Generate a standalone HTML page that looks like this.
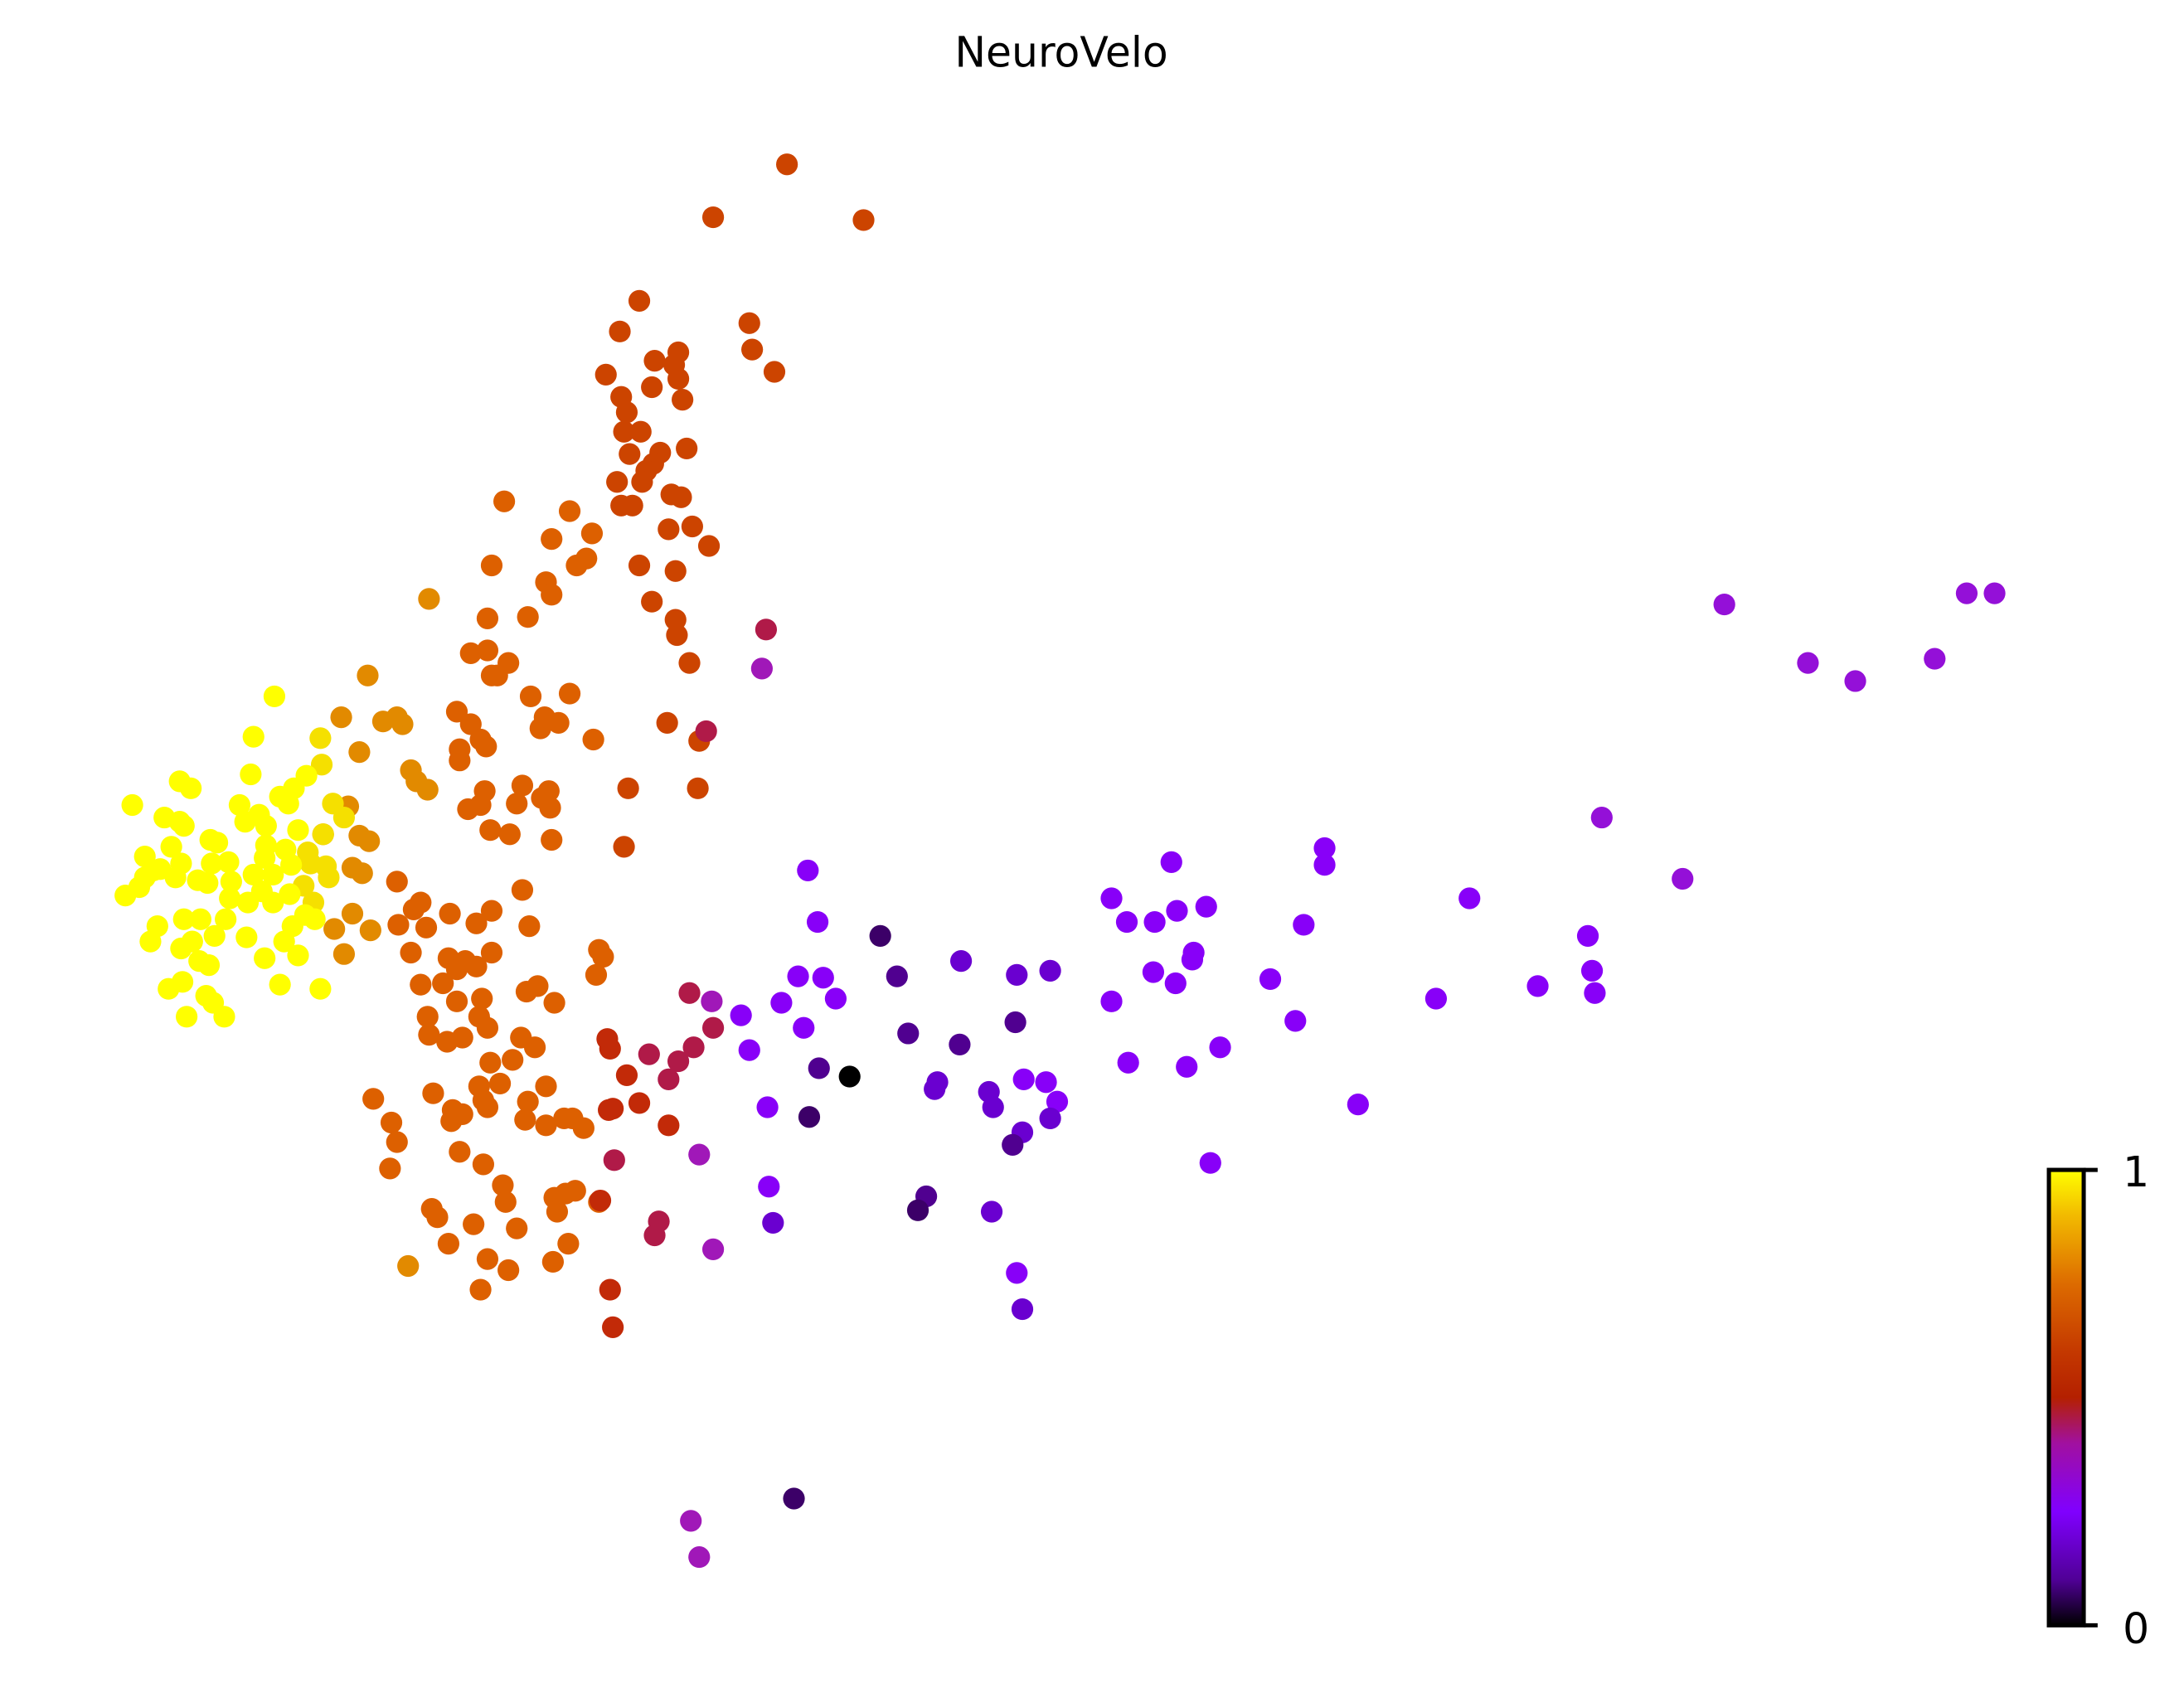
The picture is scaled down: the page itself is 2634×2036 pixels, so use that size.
<!DOCTYPE html>
<html><head><meta charset="utf-8"><style>html,body{margin:0;padding:0;background:#fff}svg{display:block}</style></head>
<body>
<svg id="s" width="2634" height="2036" viewBox="0 0 1568 1212" xmlns="http://www.w3.org/2000/svg">
<defs><linearGradient id="g" x1="0" y1="1" x2="0" y2="0">
<stop offset="0" stop-color="#000000"/><stop offset="0.1" stop-color="#500096"/><stop offset="0.25" stop-color="#8000ff"/><stop offset="0.4" stop-color="#a110a0"/><stop offset="0.5" stop-color="#b42000"/><stop offset="0.6" stop-color="#c43800"/><stop offset="0.75" stop-color="#dd6b00"/><stop offset="0.9" stop-color="#f2ba00"/><stop offset="1" stop-color="#ffff00"/></linearGradient></defs>
<text x="762" y="48" font-family="DejaVu Sans, Liberation Sans, sans-serif" font-size="30" text-anchor="middle">NeuroVelo</text>
<g id="pts"></g>
<rect x="1471" y="840" width="25" height="327" fill="url(#g)" stroke="#000" stroke-width="3"/>
<line x1="1496" y1="840" x2="1506" y2="840" stroke="#000" stroke-width="3"/>
<line x1="1496" y1="1167" x2="1506" y2="1167" stroke="#000" stroke-width="3"/>
<text x="1524" y="852" font-family="DejaVu Sans, Liberation Sans, sans-serif" font-size="30">1</text>
<text x="1524" y="1180" font-family="DejaVu Sans, Liberation Sans, sans-serif" font-size="30">0</text>
</svg>
<script>
var G={
"#cc4400":[565,118,512,156,620,158,459,216,445,238,538,232,540,251,556,267,487,253,470,259,484,262,435,269,468,278,487,272,446,285,490,287,450,296,448,310,460,310,493,322,452,326,474,325,469,333,464,338,443,346,461,346,446,363,454,363,482,355,489,357,480,380,497,378,509,392,459,406,485,410,468,432,485,445,486,456,495,476,479,519,502,532,451,566,501,566,448,608],
"#dd6000":[362,360,409,367,425,383,396,387,421,401,414,406,392,418,396,427,353,406,350,444,379,443,338,469,350,467,353,485,357,485,365,476,381,500,409,498,391,515,401,519,388,523,426,531,328,511,338,520,345,531,330,538,349,536,330,546,375,564,394,568,348,568,345,578,336,581,371,577,389,573,395,580,352,596,366,599,396,603,375,639,285,633,297,653,302,648,286,664,306,666,323,656,342,663,353,654,380,665,295,684,322,688,353,684,342,694,328,696,334,690,302,707,318,706,346,717,328,719,378,712,386,708,398,720,344,730,350,738,307,730,308,743,321,748,332,745,374,745,368,761,384,752,352,763,430,682,433,687,428,700,344,780,359,778,350,795,347,790,311,785,379,791,325,797,377,804,392,780,405,803,324,805,332,800,392,808,411,803,419,810,268,789,281,806,285,820,330,827,361,851,347,836,280,839,310,868,314,874,340,879,363,863,398,860,406,857,413,855,400,870,430,863,371,882,322,893,408,893,350,904,397,906,365,912,345,926],
"#e28a00":[308,430,264,485,245,515,275,518,289,520,285,515,258,540,295,553,299,561,307,567,250,579,258,600,265,604,253,623,260,627,253,656,266,668,247,685,240,667,232,599,293,909],
"#c22a08":[438,753,436,746,450,772,459,792,440,796,480,808,438,926,440,953,431,862,437,797],
"#b01a48":[466,757,480,775,487,762,498,752,512,738,495,713,441,833,473,877,470,887,550,452,507,525],
"#a018b8":[547,480,511,719,502,829,512,897,496,1092,502,1118],
"#8800f8":[580,625,587,662,573,701,591,702,600,717,561,720,532,729,538,754,577,738,551,795,552,852,735,775,751,777,759,791,730,914,798,645,841,619,809,662,829,662,845,654,866,651,857,684,856,689,828,698,844,706,798,719,810,763,852,766,876,752,869,835,912,703,930,733,936,664,951,609,951,621,975,793,1031,717,1055,645,1104,708,1140,672,1143,697,1145,713],
"#6a00d0":[555,878,690,690,730,700,754,697,710,784,713,795,734,813,754,803,712,870,734,940,673,777,671,782],
"#500090":[588,767,644,701,652,742,689,750,729,734,727,822,665,859],
"#3c0068":[581,802,632,672,659,869,570,1076],
"#000000":[610,773],
"#9410d8":[1150,587,1208,631,1238,434,1298,476,1332,489,1389,473,1412,426,1432,426],
"#f5e000":[232,599,223,620,221,612,234,622,236,630,239,577,247,587,218,636,225,648,230,530,231,549],
"#ffff00":[95,578,104,615,118,587,129,561,137,566,129,590,132,593,123,608,110,625,90,643,100,637,104,630,115,624,126,630,130,620,142,632,149,634,152,620,151,603,164,619,166,633,172,578,180,556,182,529,197,500,186,585,176,590,191,593,191,607,190,616,182,628,178,648,165,645,162,660,154,672,144,660,132,660,113,665,108,676,130,681,138,676,143,690,150,693,131,705,121,710,148,715,153,720,134,730,161,730,177,673,190,688,204,676,210,665,219,657,226,660,214,686,201,707,230,710,220,557,211,566,201,572,207,577,214,596,205,610,196,628,208,642,209,621,188,640,196,648,156,605]
};
var h="";for(var c in G){var a=G[c];for(var i=0;i<a.length;i+=2)h+='<circle cx="'+a[i]+'" cy="'+a[i+1]+'" r="7.8" fill="'+c+'"/>';}
document.getElementById("pts").innerHTML=h;
</script>
</body></html>
